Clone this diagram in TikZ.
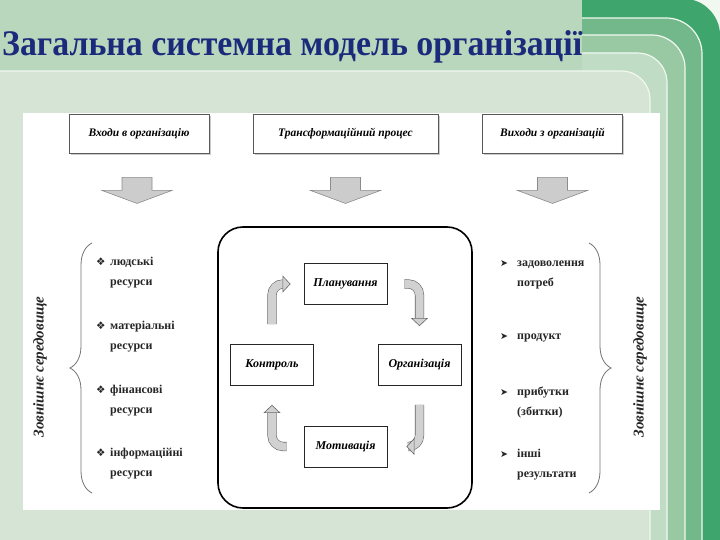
\documentclass[tikz,border=0pt]{standalone}
\usepackage{fontspec}
\setmainfont{Liberation Serif}
\newfontfamily\symfont{DejaVu Sans}
\usetikzlibrary{positioning}
\usetikzlibrary{arrows.meta}
\usetikzlibrary{decorations.pathreplacing}
\usetikzlibrary{shadows}
\definecolor{titleblue}{HTML}{1C2A7C}
\definecolor{bandtop}{HTML}{B8D7BC}
\definecolor{bandinner}{HTML}{D6E4D6}
\definecolor{banddark}{HTML}{3EA56C}
\definecolor{bandmid}{HTML}{72B88A}
\definecolor{bandlight}{HTML}{98C9A3}
\definecolor{bandpale}{HTML}{C0DCC4}
\definecolor{bandline}{HTML}{F0F8F0}
\newcommand{\lbul}{\makebox[14pt][l]{\symfont\fontsize{10.5}{10}\selectfont ❖}}
\newcommand{\rbul}{\makebox[17pt][l]{\symfont\fontsize{9.5}{10}\selectfont ➤}}

\begin{document}
\begin{tikzpicture}[x=1pt,y=-1pt,
    headbox/.style={draw=black!65, line width=0.9pt, fill=white, minimum width=140pt, minimum height=39pt,
      font=\fontsize{11.5}{13}\selectfont\bfseries\itshape,
      drop shadow={shadow xshift=1.5pt, shadow yshift=-1.5pt, fill=black!40}},
    stagebox/.style={draw=black!85, line width=0.9pt, fill=white, minimum width=83pt, minimum height=41pt,
      font=\fontsize{12}{14}\selectfont\bfseries\itshape},
    frame/.style={draw=black, line width=1.6pt, rounded corners=25pt, minimum width=254pt, minimum height=281pt},
    downarrow/.style={draw=black!45, fill=black!20, line width=0.6pt, line join=miter},
    cyclearrow/.style={draw=black!60, line width=0.6pt, double=black!18, double distance=8pt, rounded corners=11pt,
      -{Triangle[width=17pt, length=8pt, fill=black!18, line width=0.6pt]}},
    item/.style={anchor=west, align=left, inner sep=0pt, text=black!85, font=\fontsize{12}{20}\selectfont\bfseries},
    envtext/.style={rotate=90, text=black!85, font=\fontsize{15}{16}\selectfont\bfseries\itshape},
    envbrace/.style={decorate, decoration={brace, amplitude=22pt}, draw=black!55, line width=0.8pt},
    bandedge/.style={draw=bandline, line width=1.2pt}]
  \useasboundingbox (0,0) rectangle (720,540);

  % slide background
  \fill[bandtop] (0,0) rectangle (720,540);
  \fill[bandline] (680,0) rectangle (720,40);
  \fill[banddark] (582,541) -- (582,-1) -- (685,-1) .. controls (704,-1) and (720,16) .. (720,35) -- (720,541) -- cycle;
  \fill[bandmid] (582,541) -- (582,18) -- (666,18) .. controls (686,18) and (702,34) .. (702,54) -- (702,541) -- cycle;
  \draw[bandedge] (582,18) -- (666,18) .. controls (686,18) and (702,34) .. (702,54) -- (702,541);
  \fill[bandlight] (582,541) -- (582,35) -- (652,35) .. controls (670,35) and (685,50) .. (685,68) -- (685,541) -- cycle;
  \draw[bandedge] (582,35) -- (652,35) .. controls (670,35) and (685,50) .. (685,68) -- (685,541);
  \fill[bandpale] (582,541) -- (582,53) -- (637,53) .. controls (654,53) and (667,66) .. (667,83) -- (667,541) -- cycle;
  \draw[bandedge] (582,53) -- (637,53) .. controls (654,53) and (667,66) .. (667,83) -- (667,541);
  \fill[bandinner] (-1,541) -- (-1,71) -- (622,71) .. controls (637,71) and (650,84) .. (650,99) -- (650,541) -- cycle;
  \draw[bandedge] (-1,71) -- (622,71) .. controls (637,71) and (650,84) .. (650,99) -- (650,541);

  \node[anchor=base west, inner sep=0pt, text=titleblue, font=\fontsize{36}{40}\selectfont\bfseries] (title) at (2,56)
    {\scalebox{0.94}[1]{Загальна системна модель організації}};

  \fill[white] (23,113) rectangle (660,510);

  % inputs, process, outputs
  \node[headbox] (inputs) at (139,134) {Входи в організацію};
  \node[headbox, minimum width=185pt] (process) at (345.5,134) {Трансформаційний процес};
  \node[headbox] (outputs) at (552.5,134) {Виходи з організацій};

  \draw[downarrow] ([xshift=-17pt,yshift=-23.5pt]inputs.south) -- ++(30,0) -- ++(0,13) -- ++(20,0)
    -- ++(-35,13) -- ++(-35,-13) -- ++(20,0) -- cycle;
  \draw[downarrow] ([xshift=-15pt,yshift=-23.5pt]process.south) -- ++(30,0) -- ++(0,13) -- ++(20,0)
    -- ++(-35,13) -- ++(-35,-13) -- ++(20,0) -- cycle;
  \draw[downarrow] ([xshift=-15pt,yshift=-23.5pt]outputs.south) -- ++(30,0) -- ++(0,13) -- ++(20,0)
    -- ++(-35,13) -- ++(-35,-13) -- ++(20,0) -- cycle;

  \node[frame] (frame) at (345,367.5) {};

  \node[stagebox] (plan) at (345.5,284) {Планування};
  \node[stagebox] (ctrl) at (272,365) {Контроль};
  \node[stagebox] (org) at (419.5,365) {Організація};
  \node[stagebox] (motiv) at (345.5,446.5) {Мотивація};

  \draw[cyclearrow] ([yshift=20pt]ctrl.north) |- ([xshift=-13pt]plan.west);
  \draw[cyclearrow] ([xshift=17pt]plan.east) -| ([yshift=18pt]org.north);
  \draw[cyclearrow] ([yshift=-19pt]org.south) |- ([xshift=19pt]motiv.east);
  \draw[cyclearrow] ([xshift=-17pt]motiv.west) -| ([yshift=-19pt]ctrl.south);

  % resources
  \node[item] (in1) at (96,273) {\lbul людські\\\hspace*{14pt}ресурси};
  \node[item, below=64pt of in1.west, anchor=west] (in2) {\lbul матеріальні\\\hspace*{14pt}ресурси};
  \node[item, below=64pt of in2.west, anchor=west] (in3) {\lbul фінансові\\\hspace*{14pt}ресурси};
  \node[item, below=63pt of in3.west, anchor=west] (in4) {\lbul інформаційні\\\hspace*{14pt}ресурси};

  % results
  \node[item] (out1) at (500,275) {\rbul задоволення\\\hspace*{17pt}потреб};
  \node[item, below=63pt of out1.west, anchor=west] (out2) {\rbul продукт};
  \node[item, below=64pt of out2.west, anchor=west] (out3) {\rbul прибутки\\\hspace*{17pt}(збитки)};
  \node[item, below=63pt of out3.west, anchor=west] (out4) {\rbul інші\\\hspace*{17pt}результати};

  \draw[envbrace] (92,493) -- (92,243);
  \draw[envbrace] (589,243) -- (589,493);

  \node[envtext] (envleft) at (40,367) {Зовнішнє середовище};
  \node[envtext] (envright) at (640,367) {Зовнішнє середовище};
\end{tikzpicture}
\end{document}
